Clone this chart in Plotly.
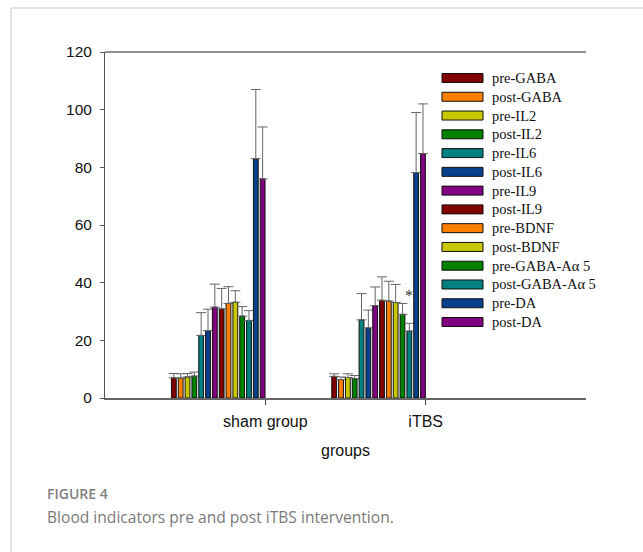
import plotly.graph_objects as go

groups = ["sham group", "iTBS"]
group_pos = [1, 2]
series_names = ["pre-GABA", "post-GABA", "pre-IL2", "post-IL2", "pre-IL6", "post-IL6",
                "pre-IL9", "post-IL9", "pre-BDNF", "post-BDNF", "pre-GABA-Aα 5",
                "post-GABA-Aα 5", "pre-DA", "post-DA"]
colors = ["#800000", "#ff8000", "#c8c800", "#008000", "#008080", "#08408c", "#800080",
          "#800000", "#ff8000", "#c8c800", "#008000", "#008080", "#08408c", "#800080"]
# means [sham, iTBS]
means = [
    [7.0, 7.5], [6.9, 6.4], [7.3, 7.1], [7.6, 6.7], [21.7, 27.1], [23.4, 24.3],
    [31.5, 32.0], [30.9, 33.9], [32.8, 33.6], [33.2, 33.1], [28.4, 29.0],
    [26.9, 23.2], [83.0, 78.2], [76.0, 84.8],
]
# upper error bar tops [sham, iTBS]
err_tops = [
    [8.5, 8.4], [8.4, 7.3], [8.5, 8.4], [9.0, 7.8], [29.6, 36.2], [30.8, 30.5],
    [39.5, 38.5], [38.0, 42.0], [38.6, 40.5], [37.2, 39.4], [31.7, 32.8],
    [30.3, 25.9], [107.0, 99.0], [94.0, 102.0],
]
y_ticks = [0, 20, 40, 60, 80, 100, 120]
x_title = "groups"
fig_label = "FIGURE 4"
caption = "Blood indicators pre and post iTBS intervention."

W, H = 643, 552
L, R, T, B = 105, 57, 52, 154
PW, PH = W - L - R, H - T - B

def px(x):
    return (x - L) / PW

def py(y):
    return (H - B - y) / PH

fig = go.Figure()
pitch = 0.0426
bw = 0.030
start = -0.5856
for i, name in enumerate(series_names):
    fig.add_trace(go.Bar(
        x=group_pos, y=means[i], name=name,
        marker=dict(color=colors[i], line=dict(color="#111111", width=1)),
        width=bw, offset=start + i * pitch,
        error_y=dict(type="data", symmetric=False,
                     array=[t - m for t, m in zip(err_tops[i], means[i])],
                     arrayminus=[0, 0], color="#666666", thickness=1, width=5),
        showlegend=False,
    ))

shapes = []
annotations = []
# card border
shapes.append(dict(type="line", xref="paper", yref="paper", x0=px(11), x1=px(11),
                   y0=py(560), y1=py(8), line=dict(color="#c8c8c8", width=1)))
shapes.append(dict(type="line", xref="paper", yref="paper", x0=px(11), x1=px(660),
                   y0=py(8), y1=py(8), line=dict(color="#c8c8c8", width=1)))
# top frame line
shapes.append(dict(type="line", xref="paper", yref="paper", x0=0, x1=1, y0=1, y1=1,
                   line=dict(color="#222222", width=1)))

# legend
for i, name in enumerate(series_names):
    yc = 78 + i * 18.77
    shapes.append(dict(type="rect", xref="paper", yref="paper",
                       x0=px(442), x1=px(483), y0=py(yc - 4.5), y1=py(yc + 4.5),
                       fillcolor=colors[i], line=dict(color="#111111", width=1)))
    annotations.append(dict(text=name, xref="paper", yref="paper", x=px(490), y=py(yc),
                            xanchor="left", yanchor="middle", showarrow=False,
                            font=dict(family="Liberation Serif", size=14.5, color="#111111")))

# significance mark
annotations.append(dict(text="*", xref="x", yref="y", x=1.894, y=35.5, showarrow=False,
                        xanchor="center", yanchor="middle",
                        font=dict(family="Liberation Serif", size=16, color="#333333")))

# caption
annotations.append(dict(text=fig_label, xref="paper", yref="paper", x=px(45), y=py(494),
                        xanchor="left", yanchor="middle", showarrow=False,
                        font=dict(family="Open Sans", size=14, color="#808080", weight=600)))
annotations.append(dict(text=caption, xref="paper", yref="paper", x=px(45), y=py(517),
                        xanchor="left", yanchor="middle", showarrow=False,
                        font=dict(family="Open Sans", size=15.6, color="#7a7a7a")))

fig.update_layout(
    width=W, height=H,
    margin=dict(l=L, r=R, t=T, b=B),
    paper_bgcolor="white", plot_bgcolor="white",
    barmode="overlay",
    shapes=shapes, annotations=annotations,
    showlegend=False,
    xaxis=dict(range=[0, 3], tickvals=group_pos, ticktext=groups, showgrid=False,
               zeroline=False, showline=True, linecolor="#666666", linewidth=1.5,
               ticks="outside", ticklen=5, tickcolor="#444444", ticklabelstandoff=3,
               tickfont=dict(family="Liberation Sans", size=16, color="#111111"),
               title=dict(text=x_title, standoff=16,
                          font=dict(family="Liberation Sans", size=16, color="#111111"))),
    yaxis=dict(range=[0, 120], tickvals=y_ticks, showgrid=False, zeroline=False,
               showline=True, linecolor="#555555", linewidth=1,
               ticks="outside", ticklen=4, tickcolor="#555555", ticklabelstandoff=5,
               tickfont=dict(family="Liberation Sans", size=15.5, color="#111111")),
)

fig.write_html("out.html")
